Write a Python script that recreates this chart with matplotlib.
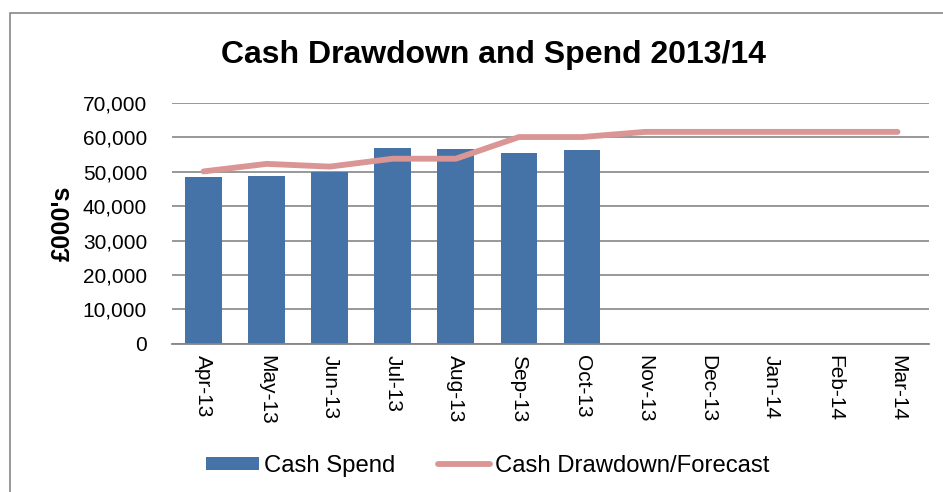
import numpy as np
import matplotlib.pyplot as plt
from matplotlib.patches import Rectangle

plt.rcParams['font.family'] = ['Liberation Sans', 'DejaVu Sans']

# data
months = ['Apr-13', 'May-13', 'Jun-13', 'Jul-13', 'Aug-13', 'Sep-13',
          'Oct-13', 'Nov-13', 'Dec-13', 'Jan-14', 'Feb-14', 'Mar-14']
cash_spend = [48500, 48800, 49800, 57000, 56700, 55500, 56400]
drawdown = [50100, 52300, 51500, 53800, 53800, 60100, 60100,
            61600, 61600, 61600, 61600, 61600]

bar_color = '#4572A7'
line_color = '#D99694'

fig = plt.figure(figsize=(9.43, 4.92), dpi=100)
ax = fig.add_axes([172/943, 1 - 343.7/492, (929 - 172)/943, (343.7 - 103)/492])

x = np.arange(len(months))
bars = ax.bar(x[:len(cash_spend)], cash_spend, width=0.585, color=bar_color,
              label='Cash Spend', zorder=2)
line, = ax.plot(x, drawdown, color=line_color, lw=4.2, solid_capstyle='round',
                label='Cash Drawdown/Forecast', zorder=3)

ax.set_xlim(-0.5, len(months) - 0.5)
ax.set_ylim(0, 70000)
ax.set_yticks(np.arange(0, 70001, 10000))
ax.set_yticklabels([f'{v:,}' for v in range(0, 70001, 10000)], fontsize=15)
ax.set_xticks(x)
ax.set_xticklabels(months, rotation=270, fontsize=15, va='top', ha='center')
ax.tick_params(axis='y', length=0, pad=18)
ax.tick_params(axis='x', length=0, pad=8)
ax.grid(axis='y', color='#868686', lw=1.2, zorder=0)
ax.set_axisbelow(True)
for s in ['left', 'right', 'top']:
    ax.spines[s].set_visible(False)
ax.spines['bottom'].set_color('#868686')
ax.spines['bottom'].set_linewidth(1.3)

ax.set_ylabel("£000's", fontsize=18, fontweight='bold', labelpad=6)
fig.text(493/943, 1 - 55/492, 'Cash Drawdown and Spend 2013/14', fontsize=23,
         fontweight='bold', ha='center', va='center')

fig.legend([bars, line], ['Cash Spend', 'Cash Drawdown/Forecast'],
           loc='center', bbox_to_anchor=(488/943, 1 - 466/492), ncol=2,
           frameon=False, fontsize=17.2, handlelength=2.2, handleheight=0.5,
           handletextpad=0.2, columnspacing=1.8)

# chart border
fig.patches.append(Rectangle((10/943, -0.1), 2, 1.1 - 13/492, transform=fig.transFigure,
                             fill=False, edgecolor='#868686', lw=1.2))

fig.savefig('out.png', dpi=100)
